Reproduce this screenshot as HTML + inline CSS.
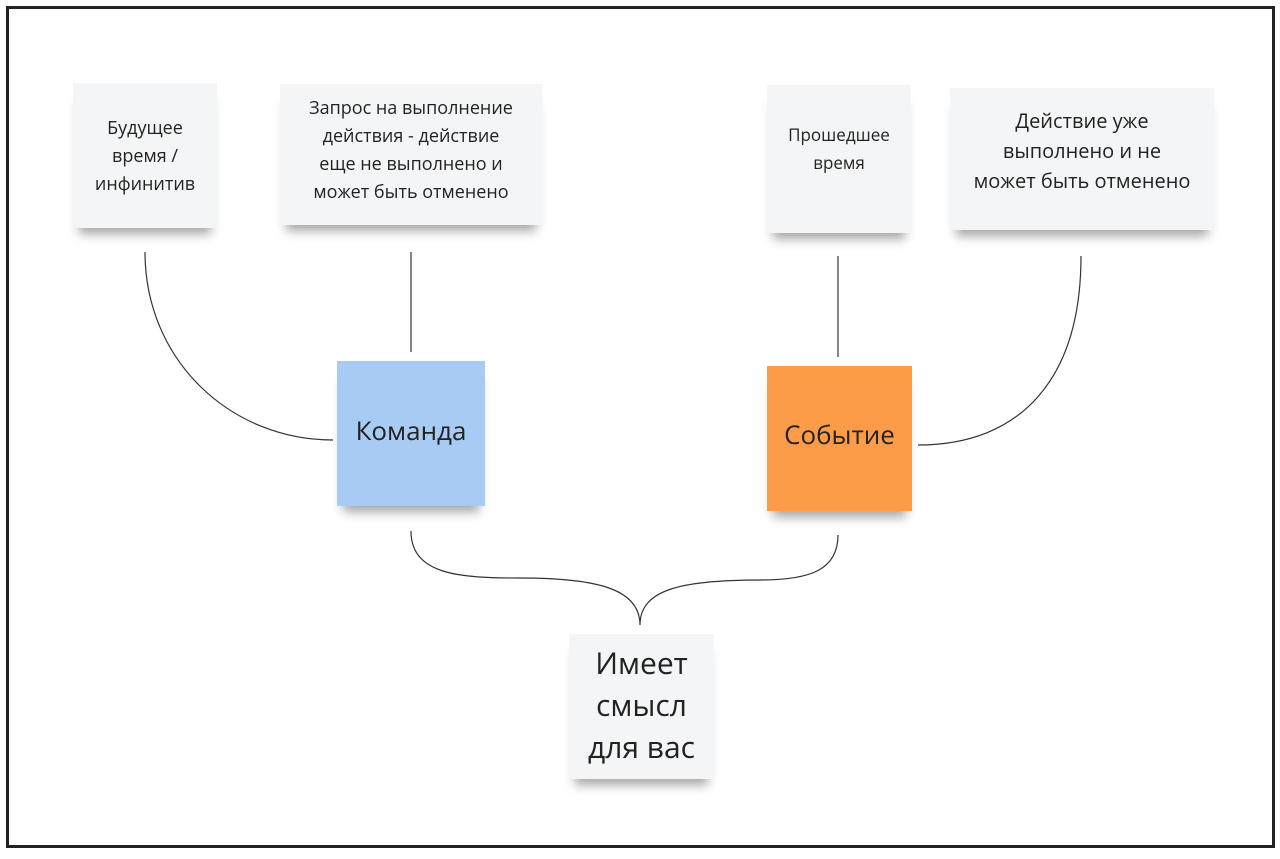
<!DOCTYPE html>
<html><head><meta charset="utf-8"><style>
body{margin:0;width:1280px;height:859px;background:#fff;position:relative;overflow:hidden;font-family:"Open Sans","DejaVu Sans","Liberation Sans",sans-serif;}
.frame{position:absolute;left:6px;top:6px;width:1263px;height:836px;border:3px solid #222;}
.n{position:absolute;display:flex;align-items:center;justify-content:center;text-align:center;color:#222;box-shadow:0 12px 10px -6px rgba(0,0,0,0.35);box-sizing:border-box;}
.w{background:#f4f5f6;font-size:18px;line-height:28px;}
</style></head><body>
<div class="frame"></div>
<svg width="1280" height="859" style="position:absolute;left:0;top:0">
<g fill="none" stroke="#333" stroke-width="1.2">
<path d="M145 252 C145 360 230 440 333 440"/>
<path d="M411 252 L411 352"/>
<path d="M838 256 L838 357"/>
<path d="M918 445 C1020 445 1081 380 1081 256"/>
<path d="M411 531 C411 575 460 578 520 578 C600 578 640 590 640 625 C640 590 680 580 760 580 C810 580 838 570 838 535"/>
</g></svg>
<div class="n w" style="left:73px;top:83px;width:144px;height:145px;">Будущее<br>время /<br>инфинитив</div>
<div class="n w" style="left:280px;top:84px;width:262px;height:141px;padding-bottom:10px;">Запрос на выполнение<br>действия - действие<br>еще не выполнено и<br>может быть отменено</div>
<div class="n w" style="left:767px;top:85px;width:144px;height:148px;padding-bottom:20px;font-size:17px">Прошедшее<br>время</div>
<div class="n w" style="left:950px;top:88px;width:264px;height:142px;font-size:20px;line-height:30px;padding-bottom:16px;">Действие уже<br>выполнено и не<br>может быть отменено</div>
<div class="n" style="left:337px;top:361px;width:148px;height:145px;background:#a8cbf3;font-size:26px;padding-bottom:8px;">Команда</div>
<div class="n" style="left:767px;top:366px;width:145px;height:145px;background:#fd9c48;font-size:26px;padding-bottom:10px;">Событие</div>
<div class="n w" style="left:569px;top:634px;width:145px;height:145px;font-size:30px;line-height:42px;padding-bottom:4px">Имеет<br>смысл<br>для вас</div>
</body></html>
